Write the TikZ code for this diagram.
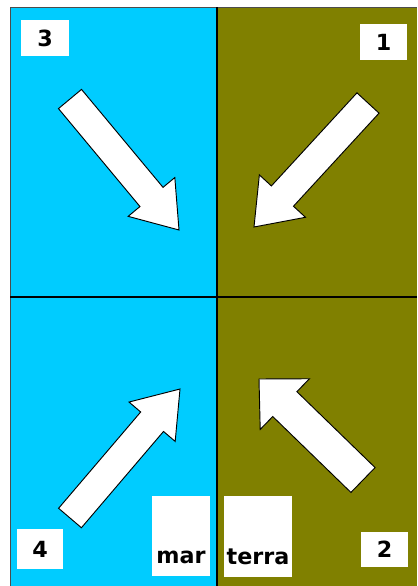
\documentclass[tikz,border=0pt]{standalone}
\usepackage{fontspec}
\setmainfont{DejaVu Sans}
\usepackage{tikz}
\usetikzlibrary{calc,fit,positioning}
\definecolor{seabg}{RGB}{0,204,255}
\definecolor{landbg}{RGB}{128,128,0}
% block arrow: name, tail, tip, shaft half width, head half width, head length
\newcommand{\blockarrow}[6]{%
  \coordinate (#1-b) at ($(#3)!#6!(#2)$);
  \draw[flowarrow] ($(#2)!#4!90:(#3)$) -- ($(#1-b)!#4!90:(#3)$)
    -- ($(#1-b)!#5!90:(#3)$) -- (#3) -- ($(#1-b)!#5!-90:(#3)$)
    -- ($(#1-b)!#4!-90:(#3)$) -- ($(#2)!#4!-90:(#3)$) -- cycle;}

\begin{document}
\begin{tikzpicture}[x=0.03cm,y=-0.03cm,
    font=\fontsize{19}{21}\selectfont\bfseries,
    numbox/.style={fill=white,inner sep=0pt},
    wordbox/.style={fill=white,inner sep=0pt},
    flowarrow/.style={fill=white,draw=black,line width=0.8pt,line join=miter}]
  \useasboundingbox (0,0) rectangle (417,586);
  % the two halves
  \fill[seabg] (10,7) rectangle (217,586);
  \fill[landbg] (217,7) rectangle (417,586);
  \draw[black!70,line width=0.6pt] (10,586) -- (10,7) -- (417,7);
  \draw[line width=1.4pt] (217,7) -- (217,586);
  \draw[line width=1.4pt] (10,297) -- (417,297);
  % numbers
  \node[numbox,fit={(21,20) (69,56)}] (n3) {};
  \node at (n3.center) {3};
  \node[numbox,fit={(360,24) (407,60)}] (n1) {};
  \node at (n1.center) {1};
  \node[numbox,fit={(17,529) (63,569)}] (n4) {};
  \node at (n4.center) {4};
  \node[numbox,fit={(361,532) (408,567)}] (n2) {};
  \node at (n2.center) {2};
  % words
  \node[wordbox,fit={(152,496) (210,576)}] (marbox) {};
  \node[anchor=base] (mar) at ($(marbox.south)+(0,-13)$) {mar};
  \node[wordbox,fit={(224,496) (292,577)}] (terrabox) {};
  \node[anchor=base] (terra) at ($(terrabox.south)+(0,-13)$) {terra};
  % arrows
  \coordinate (tail3) at (70,99);   \coordinate (tip3) at (179,230);
  \coordinate (tail1) at (368,103); \coordinate (tip1) at (254,227);
  \coordinate (tail4) at (70,518);  \coordinate (tip4) at (180,389);
  \coordinate (tail2) at (363,480); \coordinate (tip2) at (259,379);
  \blockarrow{a3}{tail3}{tip3}{0.45cm}{0.91cm}{1.29cm}
  \blockarrow{a1}{tail1}{tip1}{0.45cm}{0.94cm}{1.26cm}
  \blockarrow{a4}{tail4}{tip4}{0.45cm}{0.91cm}{1.29cm}
  \blockarrow{a2}{tail2}{tip2}{0.52cm}{1.06cm}{1.08cm}
\end{tikzpicture}
\end{document}
